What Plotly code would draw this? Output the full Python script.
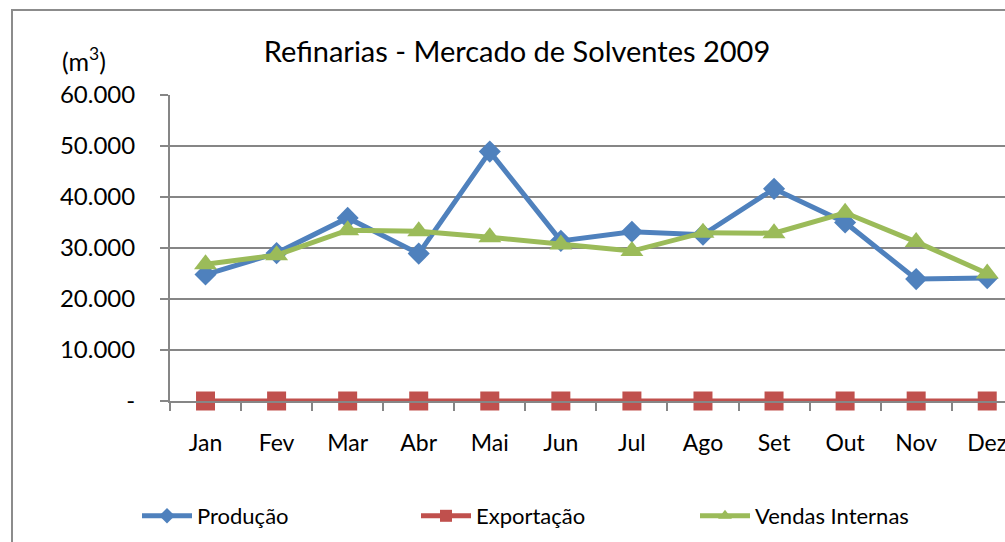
import plotly.graph_objects as go

meses = ["Jan", "Fev", "Mar", "Abr", "Mai", "Jun", "Jul", "Ago", "Set", "Out", "Nov", "Dez"]
producao = [24800, 29000, 35900, 28900, 48900, 31400, 33200, 32600, 41600, 35000, 23900, 24100]
exportacao = [0, 0, 0, 0, 0, 0, 0, 0, 0, 0, 0, 0]
vendas_internas = [26800, 28600, 33500, 33300, 32100, 30700, 29400, 33000, 32900, 36900, 31200, 25000]

y_tickvals = [0, 10000, 20000, 30000, 40000, 50000, 60000]
y_ticktext = ["-", "10.000", "20.000", "30.000", "40.000", "50.000", "60.000"]

FONT = "Lato, Carlito, Calibri, sans-serif"
GRAY = "#868686"

L, T, PW, PH = 170, 95, 835, 306

fig = go.Figure()
fig.add_trace(go.Scatter(x=meses, y=producao, name="Produção", mode="lines+markers",
                         line=dict(color="#4F81BD", width=5), cliponaxis=False,
                         marker=dict(symbol="diamond", size=17, color="#4F81BD")))
fig.add_trace(go.Scatter(x=meses, y=exportacao, name="Exportação", mode="lines+markers",
                         line=dict(color="#C0504D", width=5), cliponaxis=False,
                         marker=dict(symbol="square", size=19, color="#C0504D")))
fig.add_trace(go.Scatter(x=meses, y=vendas_internas, name="Vendas Internas", mode="lines+markers",
                         line=dict(color="#9BBB59", width=5), cliponaxis=False,
                         marker=dict(symbol="triangle-up", size=20, color="#9BBB59")))

fig.update_layout(
    width=1005, height=542,
    margin=dict(l=L, r=0, t=T, b=542 - T - PH, autoexpand=False),
    paper_bgcolor="white", plot_bgcolor="white",
    font=dict(family=FONT, size=23, color="black"),
    title=dict(text="Refinarias - Mercado de Solventes 2009", x=(517 - L) / PW, xref="paper",
               xanchor="center", y=1 - 52 / 542, yanchor="middle", font=dict(size=29, family=FONT)),
    showlegend=True,
    legend=dict(orientation="h", x=(137 - L) / PW, xanchor="left", y=(T + PH - 516) / PH,
                yanchor="middle", entrywidth=214, entrywidthmode="pixels", font=dict(size=22),
                itemwidth=50, itemsizing="constant", bgcolor="rgba(0,0,0,0)"),
    xaxis=dict(range=[-0.5, 11.25], showgrid=False, showline=True, linecolor=GRAY, linewidth=2,
               ticks="outside", tickson="boundaries", ticklen=8, tickcolor=GRAY, tickwidth=2,
               tickfont=dict(size=23), ticklabelstandoff=20, zeroline=False, automargin=False),
    yaxis=dict(range=[0, 60000], tickvals=y_tickvals, ticktext=y_ticktext, showgrid=True,
               gridcolor=GRAY, gridwidth=2, showline=True, linecolor=GRAY, linewidth=2,
               ticks="outside", ticklen=8, tickcolor=GRAY, tickwidth=2, zeroline=False,
               tickfont=dict(size=24), ticklabelstandoff=20, automargin=False),
    annotations=[dict(text="(m<sup>3</sup>)", xref="paper", yref="paper",
                      x=(84 - L) / PW, y=(T + PH - 60) / PH, xanchor="center", yanchor="middle",
                      showarrow=False, font=dict(size=25, family=FONT))],
    shapes=[dict(type="rect", xref="paper", yref="paper",
                 x0=(12 - L) / PW, x1=1.2, y0=-0.6, y1=(T + PH - 10) / PH,
                 line=dict(color="#8C8C8C", width=2), layer="below")],
)

fig.write_html("out.html", config={"displayModeBar": False},
               post_script="document.body.style.margin='0';document.body.style.overflow='hidden';")
